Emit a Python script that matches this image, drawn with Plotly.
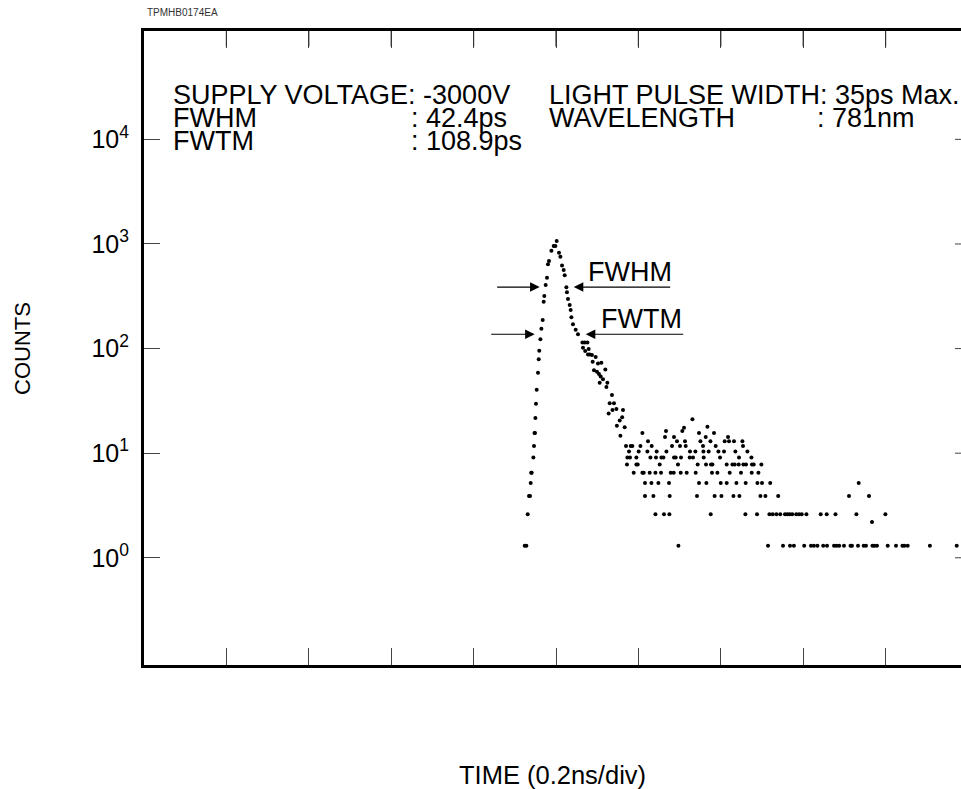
import plotly.graph_objects as go

# ---------------- data (time in ns, counts) ----------------
peak_t = [0.9466, 0.9478, 0.9490, 0.9500, 0.9514, 0.9531, 0.9563, 0.9580, 0.9594, 0.9621,
          0.9645, 0.9677, 0.9701, 0.9716, 0.9749, 0.9781, 0.9805, 0.9830, 0.9888, 0.9944,
          0.9985, 1.0017, 1.0073, 1.0107, 1.0146, 1.0186, 1.0211, 1.0252, 1.0266, 1.0291,
          1.0332, 1.0356, 1.0373, 1.0412, 1.0478, 1.0534]
peak_c = [11.7, 15.6, 15.6, 21.7, 29.7, 40.5, 58.8, 79, 95.5, 123,
          155, 188, 281, 318, 405, 476, 640, 688, 862, 957,
          957, 1069, 826, 756, 621, 564, 502, 385, 345, 298,
          261, 234, 199, 171, 151, 137]

decay_t = [1.0641, 1.0655, 1.0696, 1.0708, 1.0762, 1.0776, 1.0793, 1.0818, 1.0873, 1.0890,
           1.0922, 1.0963, 1.0995, 1.1019, 1.1043, 1.1060, 1.1084, 1.1101, 1.1140, 1.1198,
           1.1223, 1.1247, 1.1278, 1.1303, 1.1358, 1.1371, 1.1407, 1.1466, 1.1478, 1.1546,
           1.1563, 1.1606, 1.1626, 1.1667]
decay_c = [114, 102, 114, 95, 114, 88, 99, 88, 87, 75,
           62, 83, 60, 72, 57, 47, 54, 73, 51, 63,
           43, 47, 24, 30, 36, 25.9, 30, 26.5, 18.3, 20.5,
           14.7, 22, 25.9, 17.7]

# tail: times at which each quantised count level occurs
level_values = [1.3, 2.6, 3.9, 5.2, 6.5, 7.8, 9.1, 10.4, 11.7, 13.0, 14.3]
t_lv1 = [0.9240, 0.9281, 1.2971, 1.5146, 1.5510, 1.5680, 1.5774, 1.6024, 1.6189, 1.6260,
         1.6345, 1.6485, 1.6578, 1.6748, 1.6808, 1.6874, 1.6990, 1.7148, 1.7184, 1.7330,
         1.7468, 1.7524, 1.7680, 1.7728, 1.7791, 1.8051, 1.8252, 1.8408, 1.8456, 1.8536,
         1.9075, 1.9726]
t_lv2 = [0.9313, 1.2413, 1.2621, 1.2752, 1.3755, 1.4597, 1.4879, 1.5180, 1.5260, 1.5350,
         1.5442, 1.5558, 1.5617, 1.5672, 1.5733, 1.5830, 1.5898, 1.5964, 1.6078, 1.6425,
         1.6570, 1.6784, 1.7291, 1.7995]
t_lv3 = [0.9345, 0.9369, 1.2160, 1.2364, 1.2760, 1.3422, 1.3850, 1.4015, 1.4306, 1.4451,
         1.4961, 1.5083, 1.5393, 1.7112, 1.7597]
t_lv4 = [0.9386, 1.2160, 1.2316, 1.2485, 1.2743, 1.3471, 1.3650, 1.3998, 1.4143, 1.4379,
         1.4604, 1.4888, 1.5000, 1.5199, 1.7347]
t_lv5 = [0.9398, 0.9410, 1.1886, 1.2097, 1.2129, 1.2274, 1.2413, 1.2549, 1.2784, 1.2857,
         1.3027, 1.3172, 1.3391, 1.3786, 1.3917, 1.4216, 1.4490, 1.4750, 1.4913]
t_lv6 = [1.1723, 1.1951, 1.1983, 1.2517, 1.2961, 1.3439, 1.3641, 1.3762, 1.3796, 1.4143,
         1.4282, 1.4337, 1.4434, 1.4549, 1.4612, 1.4757, 1.4799, 1.4985]
t_lv7 = [0.9451, 1.1733, 1.1796, 1.1951, 1.2291, 1.2427, 1.2558, 1.2607, 1.2864, 1.2905,
         1.3034, 1.3245, 1.3325, 1.3585, 1.3981, 1.4442, 1.4743]
t_lv8 = [1.1772, 1.2007, 1.2218, 1.2444, 1.2680, 1.3252, 1.3383, 1.3578, 1.3706, 1.3942,
         1.4078, 1.4354, 1.4646]
t_lv9 = [1.1699, 1.1813, 1.1854, 1.2049, 1.2323, 1.2816, 1.3010, 1.3148, 1.3568, 1.3876,
         1.4539]
t_lv10 = [1.2233, 1.2937, 1.3131, 1.3505, 1.3748, 1.4095, 1.4199, 1.4320, 1.4524]
t_lv11 = [1.2646, 1.2864, 1.3634, 1.4175]

extra_t = [1.2097, 1.2670, 1.3066, 1.3107, 1.3311, 1.3471, 1.3675, 1.3835, 1.7670]
extra_c = [15.6, 16.3, 16.3, 17.5, 21.1, 15.6, 17.9, 15.6, 2.2]

y_tickvals = [1, 10, 100, 1000, 10000]
y_ticktext = ["10<sup>0</sup>", "10<sup>1</sup>", "10<sup>2</sup>", "10<sup>3</sup>", "10<sup>4</sup>"]
x_tickvals = [0.2, 0.4, 0.6, 0.8, 1.0, 1.2, 1.4, 1.6, 1.8]

# FWHM / FWTM marker positions (time in ns, log10 counts)
fwhm_y = 2.588
fwtm_y = 2.137

# ---------------- assemble ----------------
tail_lists = [t_lv1, t_lv2, t_lv3, t_lv4, t_lv5, t_lv6, t_lv7, t_lv8, t_lv9, t_lv10, t_lv11]
all_t = list(peak_t) + list(decay_t) + list(extra_t)
all_c = list(peak_c) + list(decay_c) + list(extra_c)
for lv, ts in zip(level_values, tail_lists):
    all_t += ts
    all_c += [lv] * len(ts)

W, H = 961, 789
L, T, B = 144, 31, 665
R = W
FONT = "Liberation Sans, Arial, Helvetica, sans-serif"
TICK_COLOR = "#444"
X_RANGE = [0, (R - L) / 412.0]
Y_RANGE = [-1.025, 5.036]
TICK_LEN = 17

def px(xp):
    return (xp - L) / (R - L)

def py(yp):
    return (B - yp) / (B - T)

fig = go.Figure()
fig.add_trace(go.Scatter(
    x=all_t, y=all_c, mode="markers",
    marker=dict(color="black", size=4, line=dict(width=0)),
    hoverinfo="skip", showlegend=False,
))

fig.update_layout(
    width=W, height=H,
    margin=dict(l=L, r=0, t=T, b=H - B, pad=0),
    paper_bgcolor="white", plot_bgcolor="white",
    font=dict(family=FONT, color="black"),
    showlegend=False,
    xaxis=dict(
        range=X_RANGE,
        showgrid=False, zeroline=False,
        showline=True, linecolor="black", linewidth=3, mirror="ticks",
        ticks="inside", ticklen=TICK_LEN, tickwidth=1, tickcolor=TICK_COLOR,
        tickvals=x_tickvals, showticklabels=False,
    ),
    yaxis=dict(
        type="log", range=Y_RANGE,
        showgrid=False, zeroline=False,
        showline=True, linecolor="black", linewidth=3, mirror=False,
        ticks="inside", ticklen=16, tickwidth=1, tickcolor=TICK_COLOR,
        tickvals=y_tickvals, ticktext=y_ticktext,
        tickfont=dict(size=25, family=FONT, color="black"),
        ticklabelstandoff=7,
    ),
)

# right-hand tick stubs (the frame's right edge lies just outside the page)
shapes = []
for v in y_tickvals:
    shapes.append(dict(type="line", xref="paper", yref="y", x0=px(955), x1=1.0,
                       y0=v, y1=v, line=dict(color=TICK_COLOR, width=1), layer="above"))
fig.update_layout(shapes=shapes)

ann = []
def text(xp, yp, s, size=27, anchor="left", color="black", angle=0):
    ann.append(dict(x=px(xp), y=py(yp), xref="paper", yref="paper", text=s,
                    showarrow=False, xanchor=anchor, yanchor="middle", textangle=angle,
                    font=dict(size=size, family=FONT, color=color)))

text(145, 13, "TPMHB0174EA", size=10, color="#333")
text(171, 95, "SUPPLY VOLTAGE: -3000V")
text(171, 118, "FWHM")
text(409, 118, ": 42.4ps")
text(171, 141, "FWTM")
text(409, 141, ": 108.9ps")
text(547, 95, "LIGHT PULSE WIDTH: 35ps Max.")
text(547, 118, "WAVELENGTH")
text(815, 118, ": 781nm")
text(586, 272, "FWHM")
text(599, 319, "FWTM")
text(22, 348, "COUNTS", size=22, anchor="center", angle=-90)
text(552, 775, "TIME (0.2ns/div)", size=25.5, anchor="center")

def arrow(x_head, x_tail, yv):
    ann.append(dict(x=x_head, y=yv, ax=x_tail, ay=yv, xref="x", yref="y",
                    axref="x", ayref="y", text="", showarrow=True,
                    arrowhead=2, arrowsize=1.6, arrowwidth=1.2, arrowcolor="black",
                    standoff=0, startstandoff=0))

arrow(0.9604, 0.8536, fwhm_y)
arrow(1.0430, 1.2808, fwhm_y)
arrow(0.9483, 0.8391, fwtm_y)
arrow(1.0721, 1.3124, fwtm_y)

# top-edge tick stubs as plain arrow-less annotation lines hanging from the frame
for v in x_tickvals:
    ann.append(dict(x=v, y=1.0, xref="x", yref="paper", ax=0, ay=TICK_LEN,
                    axref="pixel", ayref="pixel", text="", showarrow=True,
                    arrowhead=0, arrowwidth=1.2, arrowcolor="#333",
                    standoff=0, startstandoff=0))

fig.update_layout(annotations=ann)

fig.write_html("out.html", config={"displayModeBar": False},
               post_script="document.body.style.margin='0';document.body.style.overflow='hidden';")
